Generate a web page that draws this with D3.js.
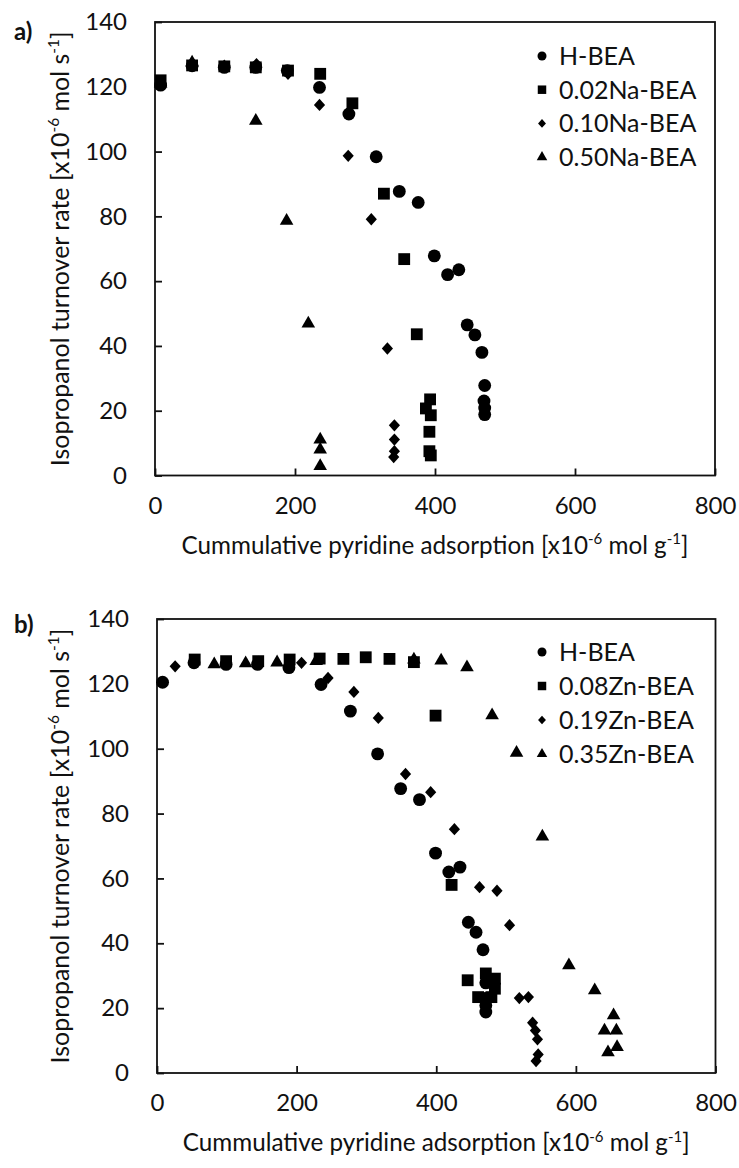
<!DOCTYPE html>
<html><head><meta charset="utf-8">
<script src="https://cdn.jsdelivr.net/npm/d3@7"></script>
<style>body{margin:0;background:#fff}text{font-family:Lato,"Open Sans",sans-serif;fill:#111}</style>
</head><body>
<svg id="c" width="739" height="1168"></svg>
<script>
// ---------- data ----------
const xTicks = [0, 200, 400, 600, 800];
const yTicks = [0, 20, 40, 60, 80, 100, 120, 140];

// H-BEA (same sample in both panels)
const hBEA_x = [8, 53, 99, 144, 189, 235, 277, 316, 349, 376, 399, 418, 434, 446, 457, 467, 471, 470, 471, 471];
const hBEA_y = [120.5, 126.5, 126, 126, 125, 119.8, 111.6, 98.4, 87.7, 84.3, 67.8, 62.0, 63.5, 46.5, 43.4, 38.0, 27.8, 23.0, 20.8, 18.8];

// panel a
const na002_x = [8, 53, 99, 144, 190, 236, 282, 327, 356, 374, 393, 387, 394, 392, 392, 394];
const na002_y = [122, 126.6, 126.3, 126, 125, 124, 114.9, 87, 66.8, 43.6, 23.5, 20.7, 18.6, 13.5, 7.5, 6.2];
const na010_x = [8, 53, 99, 145, 190, 235, 276, 309, 332, 342, 342, 342, 341];
const na010_y = [121.5, 127, 126.5, 127, 124, 114.4, 98.7, 79.1, 39.2, 15.5, 11.1, 7.5, 5.7];
const na050_x = [8, 53, 144, 188, 219, 236, 236, 236];
const na050_y = [121, 127.5, 109.5, 78.6, 46.9, 11.1, 8.0, 2.9];

// panel b
const zn008_x = [54, 99, 145, 190, 233, 267, 299, 333, 368, 399, 422, 445, 471, 484, 484, 460, 479];
const zn008_y = [127.5, 127, 127, 127.5, 127.8, 127.7, 128.2, 127.7, 126.7, 110.2, 58, 28.6, 30.7, 29.1, 26.0, 23.4, 23.4];
const zn019_x = [26, 54, 99, 145, 190, 207, 245, 282, 317, 356, 392, 426, 462, 487, 505, 519, 532, 538, 542, 545, 546, 543];
const zn019_y = [125.4, 127, 126.5, 126.8, 126.5, 126.5, 121.8, 117.5, 109.5, 92.2, 86.6, 75.2, 57.3, 56.2, 45.6, 23.1, 23.4, 15.5, 13.1, 10.4, 5.7, 3.7];
const zn035_x = [82, 127, 172, 228, 368, 407, 444, 480, 515, 552, 590, 627, 654, 641, 658, 646, 659];
const zn035_y = [126, 126.3, 126.6, 127, 127.5, 127.2, 125.1, 110.3, 98.7, 72.9, 33.2, 25.5, 17.8, 13.1, 13.1, 6.4, 8.0];

const namesA = ["H-BEA", "0.02Na-BEA", "0.10Na-BEA", "0.50Na-BEA"];
const namesB = ["H-BEA", "0.08Zn-BEA", "0.19Zn-BEA", "0.35Zn-BEA"];

// ---------- drawing ----------
const svg = d3.select("#c");

const diamond = {
  draw(ctx, size) {
    const w = Math.sqrt(size) * 0.5, h = w * 1.1;
    ctx.moveTo(0, -h); ctx.lineTo(w, 0); ctx.lineTo(0, h); ctx.lineTo(-w, 0); ctx.closePath();
  }
};
const shapes = [d3.symbolCircle, d3.symbolSquare, diamond, d3.symbolTriangle];
const sizesPlot = [130, 140, 125, 80];
const sizesLeg = [64, 72, 62, 48];

function fit(sel, w) {
  const l = sel.node().getComputedTextLength();
  const fs = parseFloat(sel.attr("font-size"));
  sel.attr("font-size", fs * w / l);
}

function supText(sel, parts) {
  let prevSup = false;
  parts.forEach(([t, sup]) => {
    const ts = sel.append("tspan").text(t);
    if (sup) { ts.attr("font-size", "0.62em").attr("dy", "-0.62em"); }
    else if (prevSup) { ts.attr("dy", "0.385em"); }
    prevSup = sup;
  });
}

function panel(cfg) {
  const {L, R, T, B, series, names, label, legY} = cfg;
  const x = d3.scaleLinear().domain([0, 800]).range([L, R]);
  const y = d3.scaleLinear().domain([0, 140]).range([B, T]);
  const g = svg.append("g");

  const ya = g.append("g").attr("transform", `translate(${L},0)`)
    .call(d3.axisLeft(y).tickValues(yTicks).tickSize(-7).tickPadding(28));
  const xa = g.append("g").attr("transform", `translate(0,${B})`)
    .call(d3.axisBottom(x).tickValues(xTicks).tickSize(-7).tickPadding(21));
  [ya, xa].forEach(a => {
    a.select(".domain").remove();
    a.selectAll("line").attr("stroke", "#111").attr("stroke-width", 1.8);
    a.selectAll("text").attr("font-size", 24).attr("font-family", "Lato").attr("fill", "#111");
  });
  g.append("rect").attr("x", L).attr("y", T).attr("width", R - L).attr("height", B - T)
    .attr("fill", "none").attr("stroke", "#111").attr("stroke-width", 1.8);

  series.forEach((s, i) => {
    const pts = s.x.map((v, j) => [v, s.y[j]]);
    g.append("g").selectAll("path").data(pts).join("path")
      .attr("transform", d => `translate(${x(d[0])},${y(d[1])})`)
      .attr("d", d3.symbol().type(shapes[i]).size(sizesPlot[i]))
      .attr("fill", "#000");
  });

  names.forEach((n, i) => {
    const yy = legY[0] + i * legY[1];
    g.append("path").attr("transform", `translate(542,${yy})`)
      .attr("d", d3.symbol().type(shapes[i]).size(sizesLeg[i])).attr("fill", "#000");
    g.append("text").attr("x", 559).attr("y", yy).attr("dy", "0.36em")
      .attr("font-size", 25).text(n);
  });

  const xt = g.append("text").attr("x", (L + R) / 2).attr("y", B + 78)
    .attr("text-anchor", "middle").attr("font-size", 22);
  supText(xt, [["Cummulative pyridine adsorption [x10", false], ["-6", true], [" mol g", false], ["-1", true], ["]", false]]);
  fit(xt, 507);

  const yt = g.append("text").attr("transform", `translate(69,${(T + B) / 2}) rotate(-90)`)
    .attr("text-anchor", "middle").attr("font-size", 22);
  supText(yt, [["Isopropanol turnover rate [x10", false], ["-6", true], [" mol s", false], ["-1", true], ["]", false]]);
  fit(yt, 435);

  g.append("text").attr("x", 14).attr("y", T + (label === "a)" ? 18 : 14))
    .attr("font-size", 24).attr("font-weight", "bold").text(label);
}

panel({
  L: 155, R: 715, T: 22, B: 475.5, label: "a)", names: namesA, legY: [56, 33.7],
  series: [
    {x: hBEA_x, y: hBEA_y}, {x: na002_x, y: na002_y}, {x: na010_x, y: na010_y}, {x: na050_x, y: na050_y}
  ]
});
panel({
  L: 157, R: 715.5, T: 619, B: 1073, label: "b)", names: namesB, legY: [652, 34],
  series: [
    {x: hBEA_x, y: hBEA_y}, {x: zn008_x, y: zn008_y}, {x: zn019_x, y: zn019_y}, {x: zn035_x, y: zn035_y}
  ]
});
</script>
</body></html>
